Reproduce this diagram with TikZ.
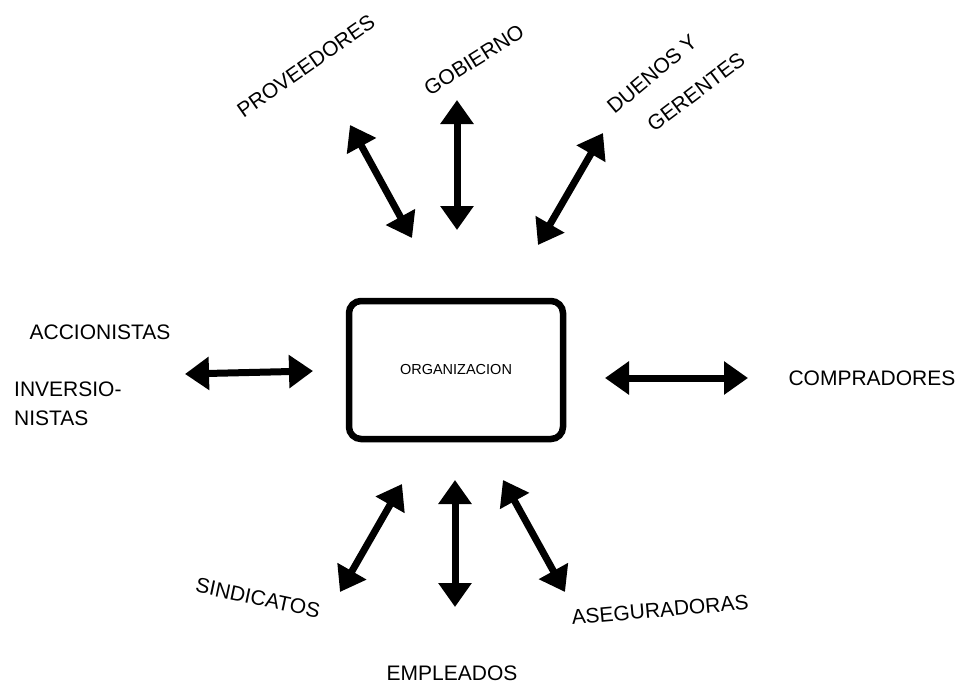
\documentclass[tikz,border=0pt]{standalone}
\usepackage{fontspec}
\setmainfont{Liberation Sans}
\usetikzlibrary{arrows.meta}

\begin{document}
\begin{tikzpicture}[x=1pt, y=-1pt,
    lbl/.style={font=\fontsize{21}{23}\selectfont, inner sep=0pt},
    link/.style={{Triangle[length=24pt,width=32pt]}-{Triangle[length=24pt,width=32pt]}, line width=7pt}]
    \useasboundingbox (0,0) rectangle (978,688);

    % 組織
    \node[draw, line width=6.5pt, rounded corners=12pt, minimum width=214pt, minimum height=138pt,
          font=\fontsize{14.5}{16}\selectfont] (org) at (456,370) {ORGANIZACION};

    % 上のラベル
    \node[lbl, rotate=35] (prov) at (306,66) {PROVEEDORES};
    \node[lbl, rotate=32] (gob) at (474,60) {GOBIERNO};
    \node[lbl, rotate=40] (duen) at (652,74) {DUENOS Y};
    \node[lbl, rotate=37] (ger) at (696,92) {GERENTES};

    % 左右のラベル
    \node[lbl] (acc) at (100,332) {ACCIONISTAS};
    \node[lbl, align=left, anchor=west] (inv) at (14,404) {INVERSIO-\\[6pt]NISTAS};
    \node[lbl] (comp) at (872,378) {COMPRADORES};

    % 下のラベル
    \node[lbl, rotate=-12] (sind) at (258,598) {SINDICATOS};
    \node[lbl] (emp) at (452,673) {EMPLEADOS};
    \node[lbl, rotate=5] (ase) at (660,610) {ASEGURADORAS};

    % 矢印の端
    \coordinate (prov-a) at (350,125);  \coordinate (prov-b) at (412,238);
    \coordinate (gob-a) at (457,100);   \coordinate (gob-b) at (457,230);
    \coordinate (duen-a) at (603,133);  \coordinate (duen-b) at (538,245);
    \coordinate (acc-a) at (185,374);   \coordinate (acc-b) at (313,371);
    \coordinate (comp-a) at (605,378);  \coordinate (comp-b) at (748,378);
    \coordinate (sind-a) at (402,484);  \coordinate (sind-b) at (340,592);
    \coordinate (emp-a) at (455,480);   \coordinate (emp-b) at (455,607);
    \coordinate (ase-a) at (503,480);   \coordinate (ase-b) at (565,592);

    % 関係
    \foreach \k in {prov, gob, duen, acc, comp, sind, emp, ase}
        \draw[link] (\k-a) -- (\k-b);
\end{tikzpicture}
\end{document}
